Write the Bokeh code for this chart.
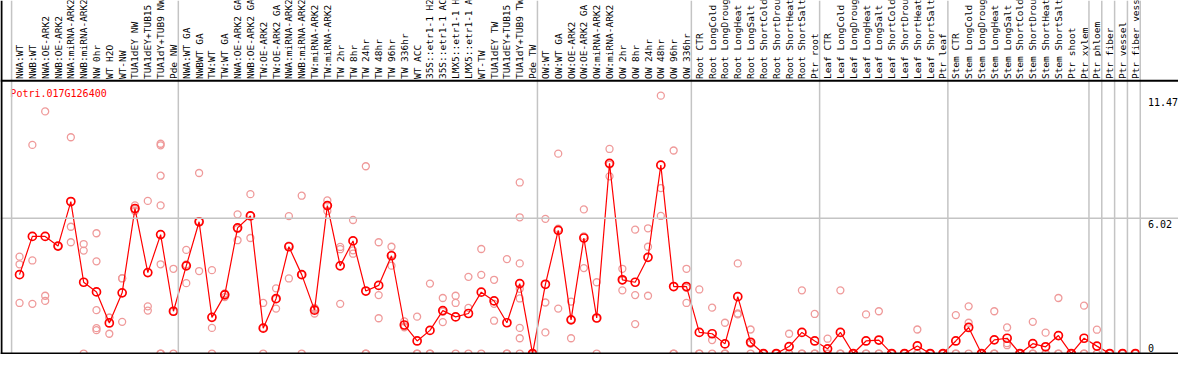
import math
from bokeh.plotting import figure
from bokeh.models import Range1d, Span
from bokeh.core.properties import value
from bokeh.embed import file_html
from bokeh.resources import INLINE

gene_name = "Potri.017G126400"

categories = [
    "NWA:WT", "NWB:WT", "NWA:OE-ARK2", "NWB:OE-ARK2", "NWA:miRNA-ARK2", "NWB:miRNA-ARK2",
    "NW 0hr", "WT H2O", "WT-NW", "TUA1dEY NW", "TUA1dEY+TUB15", "TUA1dY+TUB9 NW", "Pde NW",
    "NWA:WT GA", "NWBWT GA", "TW:WT", "TW:WT GA", "NWA:OE-ARK2 GA", "NWB:OE-ARK2 GA",
    "TW:OE-ARK2", "TW:OE-ARK2 GA", "NWA:miRNA-ARK2", "NWB:miRNA-ARK2", "TW:miRNA-ARK2",
    "TW:miRNA-ARK2", "TW 2hr", "TW 8hr", "TW 24hr", "TW 48hr", "TW 96hr", "TW 336hr",
    "WT ACC", "35S::etr1-1 H2", "35S::etr1-1 AC", "LMX5::etr1-1 H", "LMX5::etr1-1 A",
    "WT-TW", "TUA1dEY TW", "TUA1dEY+TUB15", "TUA1dY+TUB9 TW", "Pde TW",
    "OW:WT", "OW:WT GA", "OW:OE-ARK2", "OW:OE-ARK2 GA", "OW:miRNA-ARK2", "OW:miRNA-ARK2",
    "OW 2hr", "OW 8hr", "OW 24hr", "OW 48hr", "OW 96hr", "OW 336hr",
    "Root CTR", "Root LongCold", "Root LongDroug", "Root LongHeat", "Root LongSalt",
    "Root ShortCold", "Root ShortDrou", "Root ShortHeat", "Root ShortSalt", "Ptr root",
    "Leaf CTR", "Leaf LongCold", "Leaf LongDroug", "Leaf LongHeat", "Leaf LongSalt",
    "Leaf ShortCold", "Leaf ShortDrou", "Leaf ShortHeat", "Leaf ShortSalt", "Ptr leaf",
    "Stem CTR", "Stem LongCold", "Stem LongDroug", "Stem LongHeat", "Stem LongSalt",
    "Stem ShortCold", "Stem ShortDrou", "Stem ShortHeat", "Stem ShortSalt", "Ptr shoot",
    "Ptr xylem", "Ptr phloem", "Ptr fiber", "Ptr vessel", "Ptr fiber vess",
]

# index of the last category of each group (separator drawn after it)
group_ends = [12, 40, 52, 62, 72, 83, 84, 85, 86, 87]

means = [
    3.51, 5.21, 5.21, 4.78, 6.76, 3.17, 2.74, 1.36, 2.70, 6.45, 3.60, 5.29, 1.88,
    3.90, 5.86, 1.61, 2.61, 5.59, 6.12, 1.13, 2.44, 4.75, 3.51, 1.93, 6.58, 3.90,
    5.01, 2.78, 3.03, 4.35, 1.27, 0.56, 1.03, 1.91, 1.63, 1.78, 2.73, 2.34, 1.37,
    3.11, 0.0,
    3.08, 5.48, 1.50, 5.14, 1.58, 8.46, 3.28, 3.17, 4.28, 8.38, 2.98, 2.98,
    0.94, 0.88, 0.43, 2.53, 0.50, 0.0, 0.0, 0.31, 0.94, 0.56,
    0.21, 0.94, 0.0, 0.56, 0.60, 0.0, 0.0, 0.34, 0.0, 0.0,
    0.56, 1.16, 0.0, 0.61, 0.68, 0.0, 0.44, 0.30, 0.80, 0.0, 0.68,
    0.33, 0.0, 0.0, 0.0,
]

replicates = [
    [4.31, 3.97, 2.25], [9.28, 4.14, 2.21], [10.77, 2.57, 2.34], [4.78],
    [9.62, 5.64, 4.95], [4.87, 4.58, 0], [5.35, 4.10, 1.93, 1.13, 1.04],
    [1.60, 1.60, 0.88], [3.34, 3.35, 1.41], [6.59, 6.34, 6.42], [6.79, 2.10, 1.91],
    [9.33, 9.26, 7.91, 6.59, 3.97, 0, 0], [3.77, 1.87, 0],
    [4.61, 3.96, 3.13], [8.03, 5.88, 3.67], [3.71, 1.14, 0], [2.67, 2.65, 2.51],
    [6.19, 5.54, 5.04], [7.09, 6.13, 5.14], [2.25, 1.14, 0], [2.90, 2.42, 2.00],
    [6.11, 4.80, 3.34], [7.02, 3.51, 0], [2.03, 1.97, 1.78], [6.81, 6.59, 6.34],
    [4.74, 4.64, 2.21], [5.94, 4.59, 4.44], [8.33, 0, 0], [4.95, 2.60, 1.57],
    [4.75, 4.39, 3.91], [1.43, 1.21, 1.17], [1.64, 0, 0], [3.11, 0, 0],
    [2.47, 1.86, 1.40], [2.57, 2.25, 0], [3.41, 2.03, 0], [4.65, 3.50, 0],
    [3.28, 2.21, 1.46], [4.20, 0, 0], [7.61, 6.06, 4.01, 2.88, 2.45, 1.14, 0.68, 0],
    [0, 0, 0],
    [5.99, 2.27, 0.94], [8.89, 5.55, 2.00], [2.31, 1.51, 0.68], [6.41, 5.21, 3.80],
    [3.17, 1.57, 0], [9.10, 8.40, 7.88], [3.77, 3.26, 2.81], [5.51, 2.60, 1.31],
    [5.57, 4.75, 2.57], [11.47, 7.36, 6.12], [9.03, 0, 0], [3.77, 2.92, 2.25],
    [2.85, 0, 0], [2.04, 0.60, 0], [1.37, 0, 0], [4.01, 1.78, 1.74], [1.07, 0.43, 0],
    [0, 0, 0], [0, 0, 0], [0.88, 0, 0], [2.81, 0, 0], [1.76, 0, 0],
    [0.66, 0, 0], [2.81, 0, 0], [0, 0, 0], [1.74, 0, 0], [1.88, 0, 0],
    [0, 0, 0], [0, 0, 0], [1.07, 0, 0], [0, 0, 0], [0, 0, 0],
    [1.71, 0, 0], [2.10, 1.37, 0], [0, 0, 0], [1.88, 0, 0], [1.16, 0.46, 0.37],
    [0, 0, 0], [1.41, 0, 0], [0.93, 0, 0], [2.47, 0, 0], [0, 0, 0], [2.13, 0, 0],
    [1.06, 0, 0], [0, 0, 0], [0, 0, 0], [0, 0, 0],
]

y_tick_values = [11.47, 6.02, 0]

# ---------------------------------------------------------------------------
W, H = 1178, 354
n = len(categories)
idx = list(range(n))

# reference layout: category spacing 13px, value scale 23.5 px/unit
x_start = -19.3 / 13
x_end = (1194 - 19.3) / 13
y_start = -1 / 23.5
y_end = 369 / 23.5

p = figure(width=W, height=H, output_backend="svg", toolbar_location=None,
           x_range=Range1d(x_start, x_end), y_range=Range1d(y_start, y_end),
           x_axis_type=None, y_axis_type=None, min_border=0,
           background_fill_color="white", border_fill_color="white")
p.grid.visible = False
p.outline_line_color = None

font = value("DejaVu Sans Mono")
grey = "#c4c4c4"

# separators
for loc in [-0.62] + [e + 0.38 for e in group_ends]:
    p.add_layout(Span(location=loc, dimension="height", line_color=grey, line_width=1.5))
p.add_layout(Span(location=y_tick_values[1], dimension="width", line_color=grey, line_width=1.5))

# frame lines
header_y = 285 / 23.5
p.add_layout(Span(location=header_y, dimension="width", line_color="black", line_width=2))
p.add_layout(Span(location=0, dimension="width", line_color="black", line_width=2))
p.add_layout(Span(location=x_start + 1 / 13, dimension="height", line_color="black", line_width=2))

# header labels
p.text(x=idx, y=[header_y + 0.08] * n, text=categories, angle=math.pi / 2,
       text_align="left", text_baseline="middle", text_font=font,
       text_font_size="9.5px", text_color="black")

# replicates
rx, ry = [], []
for i, reps in enumerate(replicates):
    for v in reps:
        rx.append(i)
        ry.append(v)
p.scatter(rx, ry, marker="circle", size=7, fill_color=None,
          line_color="#ef9a9a", line_width=1.3)

# mean line and points
p.line(idx, means, line_color="#ff0000", line_width=1.2)
p.scatter(idx, means, marker="circle", size=8, fill_color=None,
          line_color="#ff0000", line_width=1.7)

# gene name
p.text(x=[x_start + 10 / 13], y=[(369 - 97) / 23.5], text=[gene_name],
       text_align="left", text_baseline="middle", text_font=font,
       text_font_size="10px", text_color="#ff0000")

# right value labels
lab_x = x_start + 1163 / 13
p.text(x=[lab_x, lab_x], y=y_tick_values[:2],
       text=[f"{v:g}" if v else "0" for v in y_tick_values[:2]],
       text_align="left", text_baseline="top", text_font=font,
       text_font_size="10px", text_color="black", y_offset=2)
p.text(x=[lab_x], y=[y_tick_values[2]], text=["0"],
       text_align="left", text_baseline="bottom", text_font=font,
       text_font_size="10px", text_color="black", y_offset=-2)

open("out.html", "w").write(file_html(p, INLINE))
